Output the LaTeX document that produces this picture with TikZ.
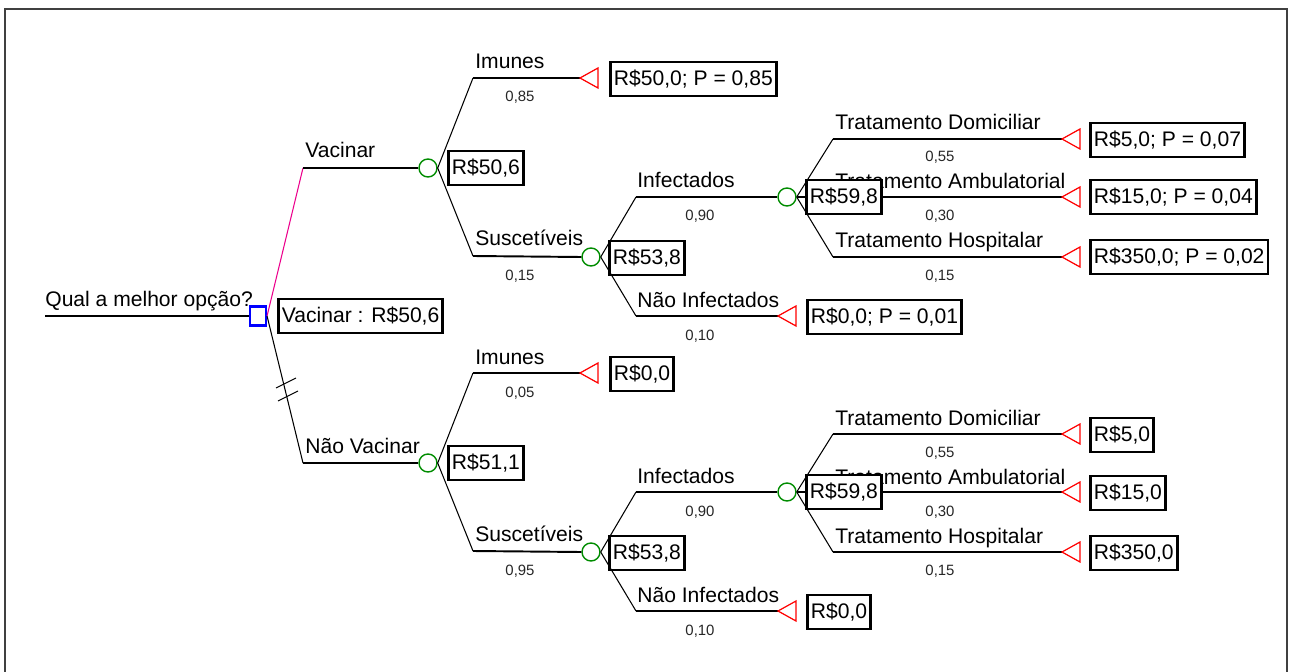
\documentclass[tikz,border=0pt]{standalone}
\usepackage{fontspec}
\setmainfont{Liberation Sans}

\tikzset{
  chance/.style={circle, draw=green!55!black, line width=0.8pt, minimum size=0.36cm, inner sep=0pt},
  decision/.style={rectangle, draw=blue, line width=1.2pt, minimum width=0.32cm, minimum height=0.38cm, inner sep=0pt},
  endmark/.style={draw=red, line width=0.7pt},
  valbox/.style={draw, fill=white, line width=1.6pt, anchor=west, inner xsep=2pt, minimum height=0.68cm, font=\fontsize{12}{14}\selectfont},
  blabel/.style={anchor=base west, inner sep=0pt, font=\fontsize{12}{14}\selectfont},
  prob/.style={anchor=base, inner sep=0pt, text=black!85, font=\fontsize{8.5}{10}\selectfont},
  fork/.style={line width=0.6pt},
  branch/.style={line width=1.1pt}
}

\begin{document}
\begin{tikzpicture}[x=0.02cm, y=-0.02cm]
\useasboundingbox (0,0) rectangle (1291,672);
\draw[line width=1.2pt, black!75] (5,672) -- (5,9) -- (1287,9) -- (1287,672);

% root
\coordinate (start) at (45,316);
\node[decision] (dec) at (258,316) {};
\draw[branch] (start) -- (dec.west);
\node[blabel] (qRoot) at (45,306) {Qual a melhor opção?};
\node[valbox] (vRoot) at (277,316) {Vacinar : R\$50,6};

\coordinate (eVac) at (303,168);
\coordinate (eNVac) at (303,463);
\node[chance] (cA) at (428,168) {};
\node[chance] (cB) at (428,463) {};
\draw[fork, magenta] (dec.east) -- (eVac);
\draw[branch] (eVac) -- (cA.west);
\draw[fork] (dec.east) -- (eNVac);
\draw[branch] (eNVac) -- (cB.west);
\node[blabel] at (305,158) {Vacinar};
\node[blabel] at (305,453) {Não Vacinar};
\draw[fork] (276,388) -- (296,378);
\draw[fork] (278,401) -- (298,391);

% Vacinar
\node[valbox] (vA) at (447,168) {R\$50,6};

\coordinate (eImuA) at (473,78);
\coordinate (tImuA) at (580,78);
\draw[fork] (cA.east) -- (eImuA);
\draw[branch] (eImuA) -- (tImuA);
\draw[endmark] (tImuA) -- ++(18,-10) -- ++(0,20) -- cycle;
\node[blabel] at (475,69) {Imunes};
\node[prob] at (520,102) {0,85};
\node[valbox] (vImuA) at (609,79) {R\$50,0; P = 0,85};

\coordinate (eSusA) at (473,256);
\node[chance] (cSA) at (591,257) {};
\draw[fork] (cA.east) -- (eSusA);
\draw[branch] (eSusA) -- (cSA.west);
\node[blabel] at (475,246) {Suscetíveis};
\node[prob] at (520,280) {0,15};
\node[valbox] (vSA) at (608,258) {R\$53,8};

\coordinate (eInfA) at (636,197);
\node[chance] (cIA) at (787,197) {};
\draw[fork] (cSA.east) -- (eInfA);
\draw[branch] (eInfA) -- (cIA.west);
\node[blabel] at (637,188) {Infectados};
\node[prob] at (700,221) {0,90};

\coordinate (eNInfA) at (636,316);
\coordinate (tNInfA) at (778,316);
\draw[fork] (cSA.east) -- (eNInfA);
\draw[branch] (eNInfA) -- (tNInfA);
\draw[endmark] (tNInfA) -- ++(18,-10) -- ++(0,20) -- cycle;
\node[blabel] at (637,307) {Não Infectados};
\node[prob] at (700,340) {0,10};
\node[valbox] (vNInfA) at (806,317) {R\$0,0; P = 0,01};

\coordinate (eDomA) at (833,139);
\coordinate (tDomA) at (1062,139);
\draw[fork] (cIA.east) -- (eDomA);
\draw[branch] (eDomA) -- (tDomA);
\draw[endmark] (tDomA) -- ++(18,-10) -- ++(0,20) -- cycle;
\node[blabel] at (835,130) {Tratamento Domiciliar};
\node[prob] at (940,162) {0,55};
\node[valbox] (vDomA) at (1089,140) {R\$5,0; P = 0,07};

\coordinate (tAmbA) at (1062,197);
\draw[branch] (cIA.east) -- (tAmbA);
\draw[endmark] (tAmbA) -- ++(18,-10) -- ++(0,20) -- cycle;
\node[blabel] at (835,189) {Tratamento Ambulatorial};
\node[prob] at (940,221) {0,30};
\node[valbox] (vAmbA) at (1089,197) {R\$15,0; P = 0,04};

\coordinate (eHosA) at (833,257);
\coordinate (tHosA) at (1062,257);
\draw[fork] (cIA.east) -- (eHosA);
\draw[branch] (eHosA) -- (tHosA);
\draw[endmark] (tHosA) -- ++(18,-10) -- ++(0,20) -- cycle;
\node[blabel] at (835,248) {Tratamento Hospitalar};
\node[prob] at (940,280) {0,15};
\node[valbox] (vHosA) at (1089,257) {R\$350,0; P = 0,02};

\node[valbox] (vIA) at (805,197) {R\$59,8};

% Nao Vacinar
\node[valbox] (vB) at (447,463) {R\$51,1};

\coordinate (eImuB) at (473,373);
\coordinate (tImuB) at (580,373);
\draw[fork] (cB.east) -- (eImuB);
\draw[branch] (eImuB) -- (tImuB);
\draw[endmark] (tImuB) -- ++(18,-10) -- ++(0,20) -- cycle;
\node[blabel] at (475,364) {Imunes};
\node[prob] at (520,397) {0,05};
\node[valbox] (vImuB) at (609,374) {R\$0,0};

\coordinate (eSusB) at (473,551);
\node[chance] (cSB) at (591,552) {};
\draw[fork] (cB.east) -- (eSusB);
\draw[branch] (eSusB) -- (cSB.west);
\node[blabel] at (475,541) {Suscetíveis};
\node[prob] at (520,575) {0,95};
\node[valbox] (vSB) at (608,553) {R\$53,8};

\coordinate (eInfB) at (636,492);
\node[chance] (cIB) at (787,492) {};
\draw[fork] (cSB.east) -- (eInfB);
\draw[branch] (eInfB) -- (cIB.west);
\node[blabel] at (637,483) {Infectados};
\node[prob] at (700,516) {0,90};

\coordinate (eNInfB) at (636,611);
\coordinate (tNInfB) at (778,611);
\draw[fork] (cSB.east) -- (eNInfB);
\draw[branch] (eNInfB) -- (tNInfB);
\draw[endmark] (tNInfB) -- ++(18,-10) -- ++(0,20) -- cycle;
\node[blabel] at (637,602) {Não Infectados};
\node[prob] at (700,635) {0,10};
\node[valbox] (vNInfB) at (806,612) {R\$0,0};

\coordinate (eDomB) at (833,434);
\coordinate (tDomB) at (1062,434);
\draw[fork] (cIB.east) -- (eDomB);
\draw[branch] (eDomB) -- (tDomB);
\draw[endmark] (tDomB) -- ++(18,-10) -- ++(0,20) -- cycle;
\node[blabel] at (835,425) {Tratamento Domiciliar};
\node[prob] at (940,457) {0,55};
\node[valbox] (vDomB) at (1089,435) {R\$5,0};

\coordinate (tAmbB) at (1062,492);
\draw[branch] (cIB.east) -- (tAmbB);
\draw[endmark] (tAmbB) -- ++(18,-10) -- ++(0,20) -- cycle;
\node[blabel] at (835,484) {Tratamento Ambulatorial};
\node[prob] at (940,516) {0,30};
\node[valbox] (vAmbB) at (1089,493) {R\$15,0};

\coordinate (eHosB) at (833,552);
\coordinate (tHosB) at (1062,552);
\draw[fork] (cIB.east) -- (eHosB);
\draw[branch] (eHosB) -- (tHosB);
\draw[endmark] (tHosB) -- ++(18,-10) -- ++(0,20) -- cycle;
\node[blabel] at (835,543) {Tratamento Hospitalar};
\node[prob] at (940,575) {0,15};
\node[valbox] (vHosB) at (1089,553) {R\$350,0};

\node[valbox] (vIB) at (805,492) {R\$59,8};
\end{tikzpicture}
\end{document}
